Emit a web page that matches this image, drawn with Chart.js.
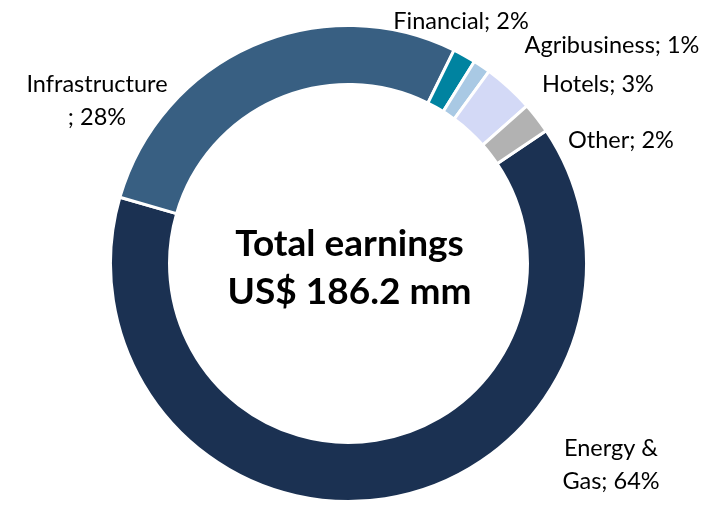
<!DOCTYPE html>
<html>
<head>
<meta charset="utf-8">
<script src="https://cdn.jsdelivr.net/npm/chart.js"></script>
<style>
  html, body { margin: 0; padding: 0; background: #ffffff; }
  canvas { display: block; }
</style>
</head>
<body>
<canvas id="earnings" width="711" height="506"></canvas>
<script>
// Earnings by segment, US$ mm
const segments = ["Energy & Gas", "Infrastructure", "Financial", "Agribusiness", "Hotels", "Other"];
const earnings = [119.0, 51.8, 2.9, 2.2, 6.4, 3.9];
const colors = ["#1b3152", "#385f82", "#0083a0", "#a9c9e4", "#d3d9f6", "#b2b2b2"];

// where each label wraps onto a second line (character index), null = one line
const wrapAt = [8, 14, null, null, null, null];
// label centres on the canvas
const labelSpots = [[611, 465], [97, 101], [461, 21], [612, 45], [598, 84], [621, 140]];

const total = earnings.reduce((a, b) => a + b, 0);
const FONT = "Lato, 'Open Sans', sans-serif";

function labelLines(i) {
  let pct = Math.round(earnings[i] / total * 100);
  let text = segments[i] + "; " + pct + "%";
  if (wrapAt[i] == null) return [text];
  return [text.slice(0, wrapAt[i]).trim(), text.slice(wrapAt[i]).trim()];
}

const sliceLabels = {
  id: "sliceLabels",
  afterDraw(chart) {
    const ctx = chart.ctx;
    ctx.save();
    ctx.fillStyle = "#000000";
    ctx.textAlign = "center";
    ctx.textBaseline = "middle";
    ctx.font = "23.5px " + FONT;
    segments.forEach((s, i) => {
      let lines = labelLines(i);
      let [x, y] = labelSpots[i];
      let top = y - (lines.length - 1) * 33 / 2;
      lines.forEach((l, j) => ctx.fillText(l, x, top + j * 33));
    });

    // total in the hole
    const arc = chart.getDatasetMeta(0).data[0];
    ctx.font = "bold 37px " + FONT;
    ctx.fillText("Total earnings", arc.x + 1, arc.y - 19);
    ctx.fillText("US$ " + total.toFixed(1) + " mm", arc.x + 1, arc.y + 29);
    ctx.restore();
  }
};

new Chart(document.getElementById("earnings"), {
  type: "doughnut",
  data: {
    labels: segments,
    datasets: [{
      data: earnings,
      backgroundColor: colors,
      borderColor: "#ffffff",
      borderWidth: 3
    }]
  },
  options: {
    responsive: false,
    animation: false,
    rotation: 56.1,
    cutout: "75.2%",
    layout: { padding: { left: 109, right: 123, top: 24, bottom: 3 } },
    plugins: {
      legend: { display: false },
      tooltip: { enabled: false }
    }
  },
  plugins: [sliceLabels]
});
</script>
</body>
</html>
